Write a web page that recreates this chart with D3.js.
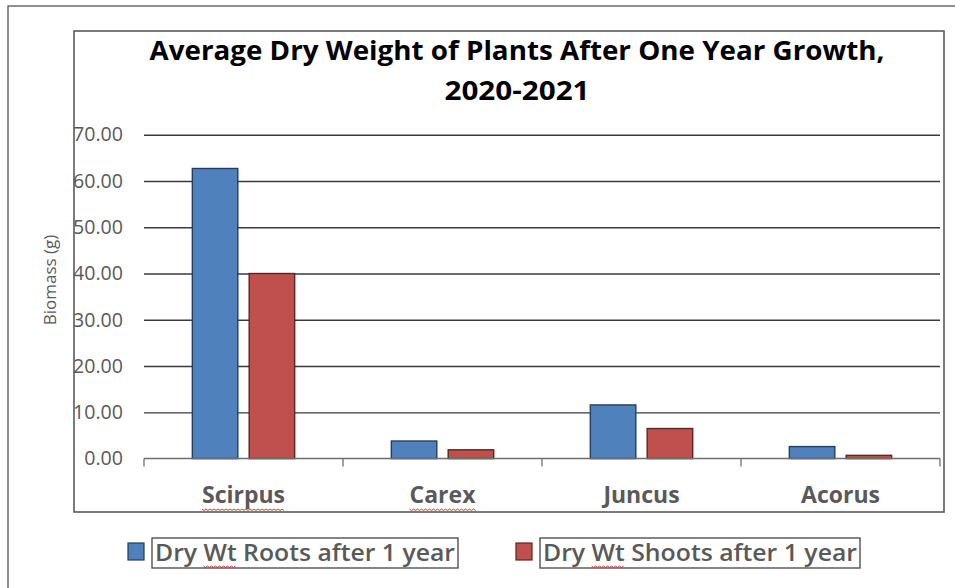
<!DOCTYPE html>
<html>
<head>
<meta charset="utf-8">
<script src="https://cdn.jsdelivr.net/npm/d3@7"></script>
<style>
  body { margin: 0; background: #fff; }
  svg { display: block; }
</style>
</head>
<body>
<svg id="chart"></svg>
<script>
// data
const categories = ["Scirpus", "Carex", "Juncus", "Acorus"];
const series = ["Dry Wt Roots after 1 year", "Dry Wt Shoots after 1 year"];
const roots = [62.7, 3.8, 11.6, 2.6];
const shoots = [40.0, 1.9, 6.5, 0.7];
const yTicks = [0, 10, 20, 30, 40, 50, 60, 70];
const titleLines = ["Average Dry Weight of Plants After One Year Growth,", "2020-2021"];
const yLabel = "Biomass (g)";
// words with the red spell-check squiggle
const squiggled = ["Scirpus", "Carex"];

const width = 955, height = 588;
const colors = ["#4f81bd", "#c0504d"];
const strokes = ["#233e62", "#5e2422"];
const grey = "#595959";
const font = "'Open Sans', 'Noto Sans', sans-serif";

const svg = d3.select("#chart")
    .attr("width", width)
    .attr("height", height)
    .style("font-family", font);

// outer frame (runs off the right and bottom)
svg.append("rect")
    .attr("x", 8).attr("y", 6)
    .attr("width", 1000).attr("height", 700)
    .attr("fill", "none")
    .attr("stroke", "#6b6b6b")
    .attr("stroke-width", 1.5);

// inner chart frame
svg.append("rect")
    .attr("x", 74).attr("y", 31)
    .attr("width", 870).attr("height", 481)
    .attr("fill", "none")
    .attr("stroke", "#5a5a5a")
    .attr("stroke-width", 1.6);

const plot = { left: 144, right: 940, top: 134.7, bottom: 458.6 };

const x0 = d3.scaleBand()
    .domain(categories)
    .range([plot.left, plot.right])
    .padding(0);

const x1 = d3.scaleBand()
    .domain(series)
    .range([0, x0.bandwidth()])
    .paddingInner(0.2)
    .paddingOuter(0.85);

const y = d3.scaleLinear()
    .domain([0, 70])
    .range([plot.bottom, plot.top]);

// y axis: gridlines + labels
const yAxis = svg.append("g")
    .attr("transform", `translate(${plot.left},0)`)
    .call(d3.axisLeft(y)
        .tickValues(yTicks)
        .tickSize(-(plot.right - plot.left))
        .tickPadding(21)
        .tickFormat(d3.format(".2f")));
yAxis.select(".domain").remove();
yAxis.selectAll(".tick line")
    .attr("stroke", "#3a3a3a")
    .attr("stroke-width", 1.4)
    .filter(d => d === 0).remove();
const tickText = yAxis.selectAll(".tick text")
    .attr("fill", grey)
    .attr("font-size", null)
    .attr("font-family", null)
    .style("font-size", "19.5px")
    .style("font-family", font);
// widen labels a bit, keeping their proportions ("70.00" ~ 50px wide)
const maxLen = d3.max(tickText.nodes(), n => n.getComputedTextLength());
tickText.each(function () {
    d3.select(this)
        .attr("textLength", this.getComputedTextLength() * 50 / maxLen)
        .attr("lengthAdjust", "spacingAndGlyphs");
});

// bars
const rows = categories.map((c, i) => ({ cat: c, vals: [roots[i], shoots[i]] }));

svg.append("g")
    .selectAll("g")
    .data(rows)
    .join("g")
    .attr("transform", d => `translate(${x0(d.cat)},0)`)
    .selectAll("rect")
    .data(d => d.vals.map((v, j) => ({ key: series[j], v, j })))
    .join("rect")
    .attr("x", d => x1(d.key))
    .attr("y", d => y(d.v))
    .attr("width", x1.bandwidth())
    .attr("height", d => y(0) - y(d.v))
    .attr("fill", d => colors[d.j])
    .attr("stroke", d => strokes[d.j])
    .attr("stroke-width", 1.4);

// x axis line with category separators
const xAxis = svg.append("g");
xAxis.append("line")
    .attr("x1", plot.left).attr("x2", plot.right)
    .attr("y1", y(0)).attr("y2", y(0))
    .attr("stroke", "#6e6e6e")
    .attr("stroke-width", 1.5);
const seps = categories.map(c => x0(c)).concat([plot.right]);
xAxis.selectAll("line.sep")
    .data(seps)
    .join("line")
    .attr("class", "sep")
    .attr("x1", d => d).attr("x2", d => d)
    .attr("y1", y(0)).attr("y2", y(0) + 8)
    .attr("stroke", "#6e6e6e")
    .attr("stroke-width", 1.3);

// squiggle under a text box
function squiggle(g, x, w, yy) {
    const pts = [];
    for (let px = 0; px <= w; px += 2) pts.push([x + px, yy + ((px / 2) % 2 ? 1.5 : 0)]);
    g.append("path")
        .attr("d", d3.line()(pts))
        .attr("fill", "none")
        .attr("stroke", "#d23a3a")
        .attr("stroke-width", 1);
}

// category labels
const catLabels = svg.append("g")
    .selectAll("text")
    .data(categories)
    .join("text")
    .attr("x", d => x0(d) + x0.bandwidth() / 2)
    .attr("y", 503)
    .attr("text-anchor", "middle")
    .attr("fill", grey)
    .style("font-size", "23px")
    .style("font-weight", "bold")
    .text(d => d);
catLabels.each(function (d) {
    if (squiggled.includes(d)) {
        const b = this.getBBox();
        squiggle(svg, b.x, b.width, 509);
    }
});

// title
svg.append("g")
    .selectAll("text")
    .data(titleLines)
    .join("text")
    .attr("x", 517)
    .attr("y", (d, i) => 60 + i * 40)
    .attr("text-anchor", "middle")
    .attr("fill", "#000")
    .style("font-size", "27.5px")
    .style("font-weight", "bold")
    .attr("textLength", (d, i) => i === 0 ? 735 : 145)
    .attr("lengthAdjust", "spacingAndGlyphs")
    .text(d => d);

// y axis title
svg.append("text")
    .attr("transform", "translate(56,280) rotate(-90)")
    .attr("text-anchor", "middle")
    .attr("fill", grey)
    .style("font-size", "17px")
    .text(yLabel);

// legend
const legendPos = [128, 516];
const legend = svg.append("g")
    .selectAll("g")
    .data(series)
    .join("g")
    .attr("transform", (d, i) => `translate(${legendPos[i]},543)`);
legend.append("rect")
    .attr("width", 16).attr("height", 17)
    .attr("fill", (d, i) => colors[i])
    .attr("stroke", (d, i) => strokes[i])
    .attr("stroke-width", 1.2);
legend.append("rect")
    .attr("x", 24).attr("y", -5)
    .attr("width", (d, i) => i === 0 ? 306 : 320)
    .attr("height", 30)
    .attr("fill", "none")
    .attr("stroke", "#444")
    .attr("stroke-width", 1.3);
legend.append("text")
    .attr("x", 27)
    .attr("y", 18)
    .attr("fill", grey)
    .style("font-size", "23px")
    .style("font-weight", "600")
    .attr("textLength", (d, i) => i === 0 ? 300 : 314)
    .attr("lengthAdjust", "spacingAndGlyphs")
    .text(d => d);
// squiggle under "Wt"
legend.each(function () {
    const g = d3.select(this);
    const t = g.select("text").node();
    const s = t.getStartPositionOfChar(4).x;
    const e = t.getEndPositionOfChar(5).x;
    squiggle(g, s, e - s, 23);
});
</script>
</body>
</html>
